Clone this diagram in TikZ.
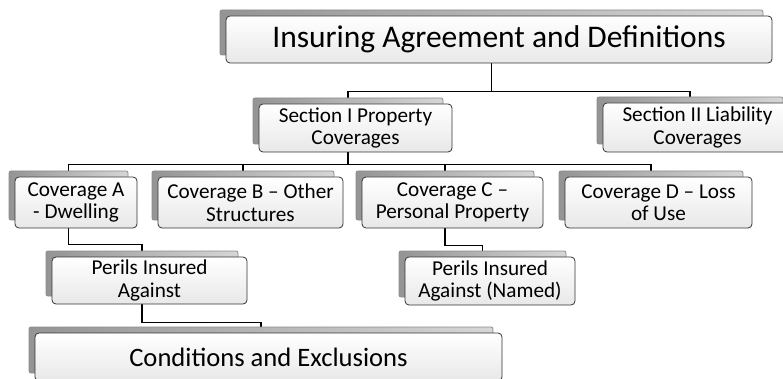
\documentclass[tikz,border=0pt]{standalone}
\usepackage{fontspec}
\setmainfont{Carlito}
\usetikzlibrary{calc}
\pgfdeclarelayer{paper}
\pgfdeclarelayer{wires}
\pgfsetlayers{paper,wires,main}
\tikzset{
  front/.style={draw=black!80, line width=0.8pt, rounded corners=4pt,
    top color=white, bottom color=black!9, align=center, inner sep=1pt},
  backcard/.style={draw=black!45, line width=0.8pt, rounded corners=2pt,
    left color=black!42, right color=black!16, inner sep=0pt},
  conn/.style={draw=black, line width=1.3pt},
}
% #1 name, #2 cx, #3 cy, #4 width, #5 height, #6 font size, #7 line skip, #8 text
\newcommand\card[8]{%
  \node[backcard, minimum width=#4pt-3pt, minimum height=#5pt-2pt] (#1-b) at (#2-7.5,#3-7) {};
  \node[front, minimum width=#4pt, minimum height=#5pt,
        font=\fontsize{#6}{#7}\selectfont] (#1) at (#2,#3) {#8};
}
\begin{document}
\begin{tikzpicture}[x=1pt,y=-1pt]
  \begin{pgfonlayer}{paper}
    \fill[white] (0,0) rectangle (783,379);
  \end{pgfonlayer}
  \useasboundingbox (0,0) rectangle (783,379);
  \clip (0,0) rectangle (783,379);

  \card{top}{499}{39.5}{546}{47}{31.5}{37}{Insuring Agreement and Definitions}
  \card{secI}{355.5}{128}{193}{48}{21.2}{22.5}{Section I Property\\Coverages}
  \card{secII}{697.5}{127.5}{189}{49}{21.2}{22.5}{Section II Liability\\Coverages}
  \card{covA}{76}{202.5}{122}{51}{21.2}{22.5}{Coverage A\\- Dwelling}
  \card{covB}{250.5}{202.5}{185}{51}{21.2}{22.5}{Coverage B – Other\\Structures}
  \card{covC}{452.5}{202.5}{181}{51}{21.2}{22.5}{Coverage C –\\Personal Property}
  \card{covD}{658.5}{202.5}{187}{51}{21.2}{22.5}{Coverage D – Loss\\of Use}
  \card{perA}{149.5}{280.5}{195}{47}{21.2}{22.5}{Perils Insured\\Against}
  \card{perC}{490}{281}{170}{48}{21.2}{22.5}{Perils Insured\\Against (Named)}
  \card{cond}{268.5}{357}{467}{48}{26.6}{32}{Conditions and Exclusions}

  \begin{pgfonlayer}{wires}
    \draw[conn] (top-b.south |- top.south) -- ++(0,28) -| (secI-b.north);
    \draw[conn] (top-b.south |- top.south) -- ++(0,28) -| (secII-b.north);
    \draw[conn] (secI-b.south |- secI.south) -- ++(0,12) -| (covA-b.north);
    \draw[conn] (secI-b.south |- secI.south) -- ++(0,12) -| (covB-b.north);
    \draw[conn] (secI-b.south |- secI.south) -- ++(0,12) -| (covC-b.north);
    \draw[conn] (secI-b.south |- secI.south) -- ++(0,12) -| (covD-b.north);
    \draw[conn] (covA-b.south |- covA.south) -- ++(0,16) -| (perA-b.north);
    \draw[conn] (covC-b.south |- covC.south) -- ++(0,17) -| (perC-b.north);
    \draw[conn] (perA-b.south |- perA.south) -- ++(0,18) -| (cond-b.north);
  \end{pgfonlayer}
\end{tikzpicture}
\end{document}
